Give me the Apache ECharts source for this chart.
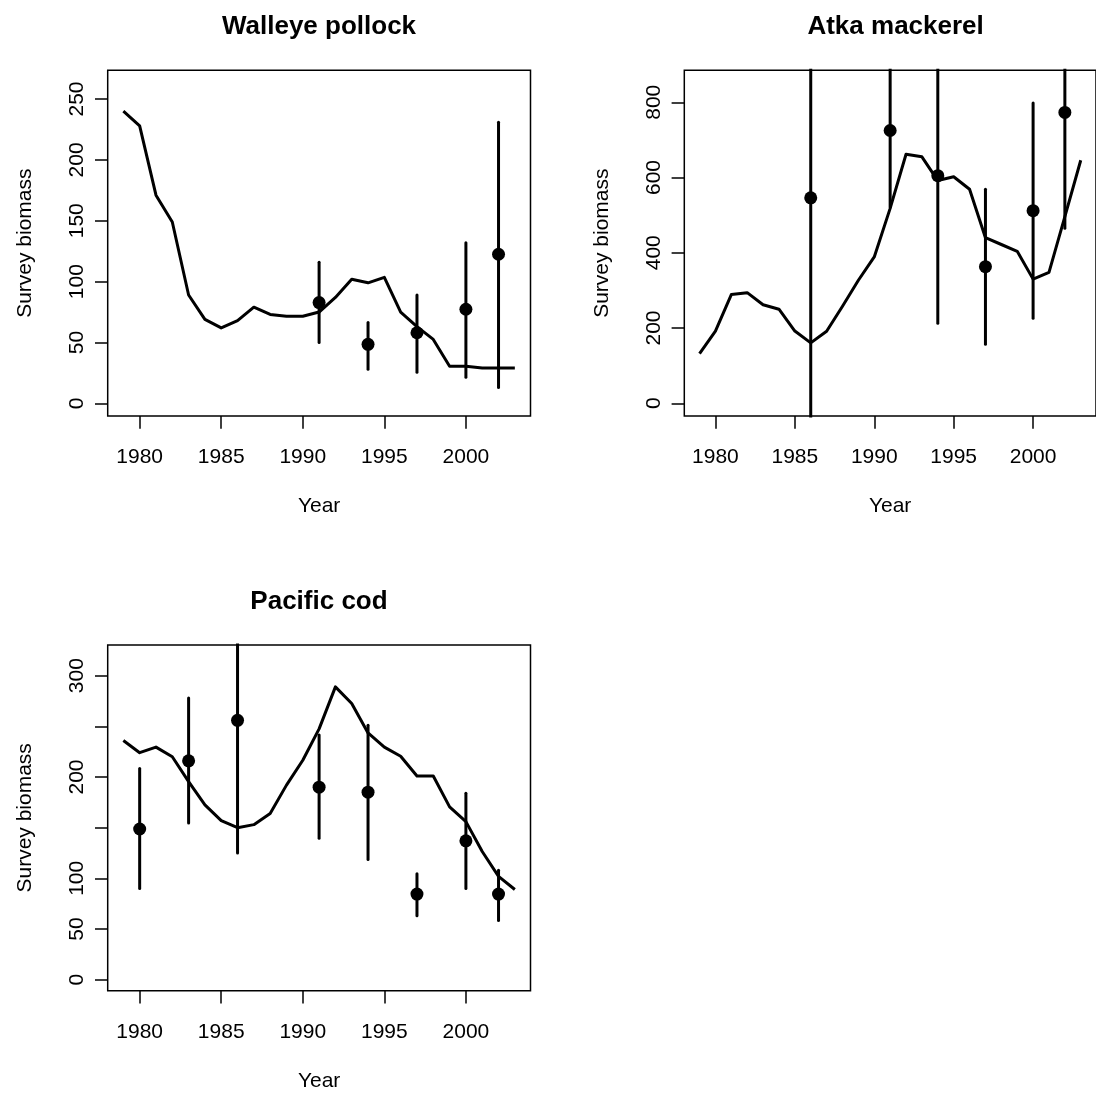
<!DOCTYPE html>
<html>
<head>
<meta charset="utf-8">
<title>Survey biomass</title>
<script src="https://cdn.jsdelivr.net/npm/echarts@6/dist/echarts.min.js"></script>
<style>
html, body { margin: 0; padding: 0; background: #fff; }
#main { width: 1096px; height: 1099px; }
</style>
</head>
<body>
<div id="main"></div>
<script>
// model years and fitted survey biomass
var years = [1979, 1980, 1981, 1982, 1983, 1984, 1985, 1986, 1987, 1988, 1989, 1990, 1991,
  1992, 1993, 1994, 1995, 1996, 1997, 1998, 1999, 2000, 2001, 2002, 2003];
var xTicks = [1980, 1985, 1990, 1995, 2000];

// Walleye pollock
var pollockFit = [240, 228, 171, 149, 89, 69, 62, 68, 79, 73, 71.5, 71.5, 75,
  87, 102, 99, 103.5, 75, 63, 52.5, 30.5, 30.5, 29, 29, 29];
var pollockYears = [1991, 1994, 1997, 2000, 2002];
var pollockObs = [82.8, 48.5, 58, 77.3, 122.5];
var pollockLo = [50, 28, 25.5, 21.5, 13];
var pollockHi = [116, 66.5, 89, 132, 231];
var pollockTicks = [0, 50, 100, 150, 200, 250];

// Atka mackerel
var atkaFit = [132, 192, 289, 294, 262, 250, 192, 160.5, 191.5, 258, 327, 389, 518,
  662, 655, 592, 602, 569, 440, 422, 404, 330, 348, 496, 646];
var atkaYears = [1986, 1991, 1994, 1997, 2000, 2002];
var atkaObs = [546, 725, 605, 363, 512, 773];
var atkaLo = [-40, 522, 213, 157, 226, 465];
var atkaHi = [1132, 928, 997, 569, 798, 1081];
var atkaTicks = [0, 200, 400, 600, 800];

// Pacific cod
var codFit = [236, 224, 229.5, 220, 195.5, 172.5, 157, 150, 153, 164, 192, 216.5, 247.5,
  289, 272.5, 243.5, 229.5, 220.5, 201, 201, 170.5, 156, 126.5, 102, 89];
var codYears = [1980, 1983, 1986, 1991, 1994, 1997, 2000, 2002];
var codObs = [148.7, 216, 256, 190, 185, 84.5, 137, 84.5];
var codLo = [90, 154.5, 125, 139.5, 118.5, 63, 90, 58.5];
var codHi = [208.5, 278, 387, 241.5, 251, 104.5, 184, 108];
var codTicks = [0, 50, 100, 150, 200, 250, 300];
var codLabels = [0, 50, 100, 200, 300];

var FONT = 'Liberation Sans, Arial, Helvetica, sans-serif';
var panels = [
  { name: 'Walleye pollock', fit: pollockFit, yrs: pollockYears, obs: pollockObs, lo: pollockLo, hi: pollockHi,
    ticks: pollockTicks, labels: pollockTicks, ymin: -10.4, ymax: 273.6, left: 107.7, top: 70.3 },
  { name: 'Atka mackerel', fit: atkaFit, yrs: atkaYears, obs: atkaObs, lo: atkaLo, hi: atkaHi,
    ticks: atkaTicks, labels: atkaTicks, ymin: -33.8, ymax: 885, left: 684.3, top: 70.3 },
  { name: 'Pacific cod', fit: codFit, yrs: codYears, obs: codObs, lo: codLo, hi: codHi,
    ticks: codTicks, labels: codLabels, ymin: -10.9, ymax: 330.3, left: 107.7, top: 645 }
];

function plain(v) { return String(v); }

var option = {
  animation: false,
  backgroundColor: '#fff',
  textStyle: { fontFamily: FONT, color: '#000' },
  title: [], grid: [], xAxis: [], yAxis: [], series: []
};

panels.forEach(function (p, i) {
  option.title.push({
    text: p.name, left: p.left + 206.3, top: p.top - 61, textAlign: 'center',
    textStyle: { fontFamily: FONT, fontSize: 26, fontWeight: 'bold', color: '#000' }
  });
  option.grid.push({
    left: p.left, top: p.top, width: 422.8, height: 345.7,
    show: true, borderColor: '#000', borderWidth: 1.5, backgroundColor: 'transparent'
  });
  option.xAxis.push({
    type: 'value', gridIndex: i, min: 1978.04, max: 2003.96,
    name: 'Year', nameLocation: 'middle', nameGap: 80,
    nameTextStyle: { fontFamily: FONT, fontSize: 21, color: '#000' },
    axisLine: { show: false, onZero: false },
    axisTick: { show: true, length: 12.7, customValues: xTicks, lineStyle: { color: '#000', width: 1.5 } },
    axisLabel: { customValues: xTicks, formatter: plain, margin: 31, fontFamily: FONT, fontSize: 21, color: '#000' },
    splitLine: { show: false }
  });
  option.yAxis.push({
    type: 'value', gridIndex: i, min: p.ymin, max: p.ymax,
    name: 'Survey biomass', nameLocation: 'middle', nameGap: 72, nameRotate: 90,
    nameTextStyle: { fontFamily: FONT, fontSize: 21, color: '#000' },
    axisLine: { show: false, onZero: false },
    axisTick: { show: true, length: 12.7, customValues: p.ticks, lineStyle: { color: '#000', width: 1.5 } },
    axisLabel: { customValues: p.labels, formatter: plain, rotate: 90, margin: 20, fontFamily: FONT, fontSize: 21, color: '#000' },
    splitLine: { show: false }
  });
  // fitted line
  option.series.push({
    type: 'line', xAxisIndex: i, yAxisIndex: i, showSymbol: false, clip: true,
    data: years.map(function (y, k) { return [y, p.fit[k]]; }),
    lineStyle: { color: '#000', width: 3, join: 'round' }, z: 2
  });
  // confidence bars
  p.yrs.forEach(function (y, k) {
    option.series.push({
      type: 'line', xAxisIndex: i, yAxisIndex: i, showSymbol: false, clip: true,
      data: [[y, p.lo[k]], [y, p.hi[k]]],
      lineStyle: { color: '#000', width: 3, cap: 'round' }, z: 3
    });
  });
  // observed points
  option.series.push({
    type: 'scatter', xAxisIndex: i, yAxisIndex: i, symbol: 'circle', symbolSize: 13,
    data: p.yrs.map(function (y, k) { return [y, p.obs[k]]; }),
    itemStyle: { color: '#000', opacity: 1 }, z: 4
  });
});

var chart = echarts.init(document.getElementById('main'), null, { renderer: 'canvas' });
chart.setOption(option);
</script>
</body>
</html>
